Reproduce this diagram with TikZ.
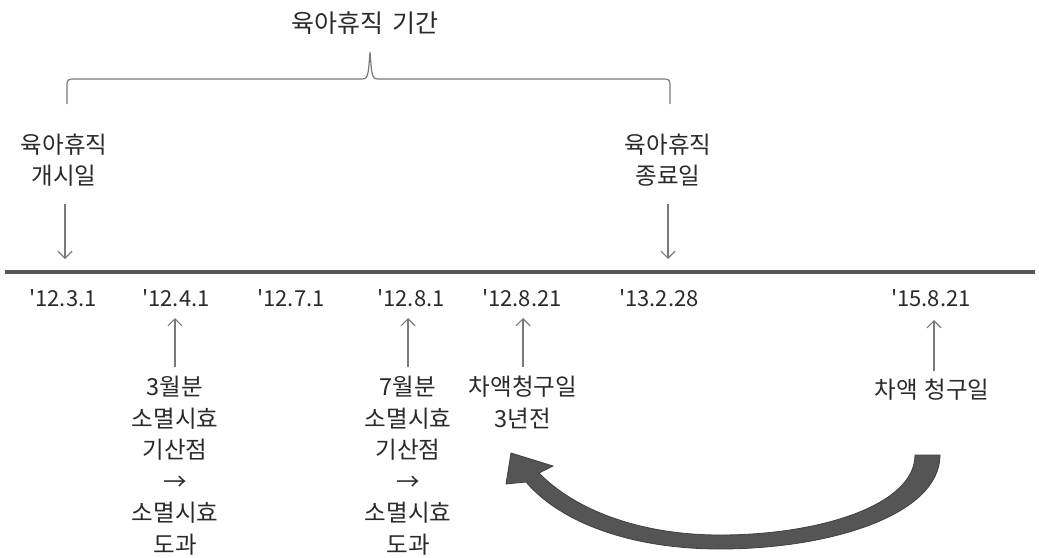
\documentclass[tikz,border=0pt]{standalone}
\usepackage{fontspec}
\setmainfont{Noto Sans CJK KR}
\newfontfamily\datefont{Noto Sans CJK KR}
\usetikzlibrary{arrows.meta}
\definecolor{txt}{HTML}{2A2A2A}
\definecolor{ln}{HTML}{7A7A7A}
\definecolor{axis}{HTML}{555555}
\definecolor{bigarr}{HTML}{555555}
\begin{document}
\begin{tikzpicture}[x=1pt,y=-1pt,
  lbl/.style={text=txt,font=\fontsize{23.5}{31.5}\selectfont,align=center,inner sep=0pt},
  datelbl/.style={text=txt,font=\datefont\fontsize{22}{26}\selectfont,inner sep=0pt},
  ptr/.style={draw=ln,line width=1.2pt,-{Straight Barb[length=7pt,width=14pt,line width=1.2pt]}}]
\useasboundingbox (0,0) rectangle (1039,557);
\fill[white] (0,0) rectangle (1039,557);

% title and brace
\node[lbl,font=\fontsize{25}{31.5}\selectfont] (title) at (365,23) {육아휴직\hspace{0.4em}기간};
\draw[ln,line width=1.2pt] (67,104) -- (67,88) .. controls (67,79) .. (76,79) -- (360,79)
  .. controls (368,79) .. (370,52) .. controls (372,79) .. (380,79) -- (661,79)
  .. controls (670,79) .. (670,88) -- (670,104);

% top labels
\node[lbl] (start) at (64,160) {육아휴직\\개시일};
\node[lbl] (end) at (668,160) {육아휴직\\종료일};
\coordinate (s1) at (65,204); \coordinate (s2) at (65,259);
\coordinate (e1) at (668,204); \coordinate (e2) at (668,259);
\draw[ptr] (s1) -- (s2);
\draw[ptr] (e1) -- (e2);

% timeline
\coordinate (axL) at (5,272); \coordinate (axR) at (1035,272);
\draw[axis,line width=3.8pt] (axL) -- (axR);

% dates
\node[datelbl] (d1) at (63,298) {'12.3.1};
\node[datelbl] (d2) at (176,298) {'12.4.1};
\node[datelbl] (d3) at (291,298) {'12.7.1};
\node[datelbl] (d4) at (411,298) {'12.8.1};
\node[datelbl] (d5) at (522,298) {'12.8.21};
\node[datelbl] (d6) at (659,298) {'13.2.28};
\node[datelbl] (d7) at (931,298) {'15.8.21};

% bottom labels
\node[lbl,anchor=north] (l2) at (175,376) {3월분\\소멸시효\\기산점\\→\\소멸시효\\도과};
\node[lbl,anchor=north] (l4) at (408,376) {7월분\\소멸시효\\기산점\\→\\소멸시효\\도과};
\node[lbl,anchor=north] (l5) at (523,376) {차액청구일\\3년전};
\node[lbl,anchor=north] (l7) at (932,379) {차액\hspace{0.3em}청구일};

\coordinate (a2) at (175,367); \coordinate (b2) at (175,318);
\coordinate (a4) at (408,367); \coordinate (b4) at (408,318);
\coordinate (a5) at (523,367); \coordinate (b5) at (523,318);
\coordinate (a7) at (934,371); \coordinate (b7) at (934,320);
\draw[ptr] (a2) -- (b2);
\draw[ptr] (a4) -- (b4);
\draw[ptr] (a5) -- (b5);
\draw[ptr] (a7) -- (b7);

% big curved arrow
\fill[bigarr,draw=black!75,line width=0.8pt]
  (940,455) .. controls (940,515) and (830,549) .. (720,549)
  .. controls (630,549) and (560,522) .. (526,482)
  -- (506,484) -- (511,453) -- (553,466) -- (539,473)
  .. controls (575,510) and (640,535) .. (720,535)
  .. controls (820,535) and (915,505) .. (915,455) -- cycle;
\end{tikzpicture}
\end{document}
